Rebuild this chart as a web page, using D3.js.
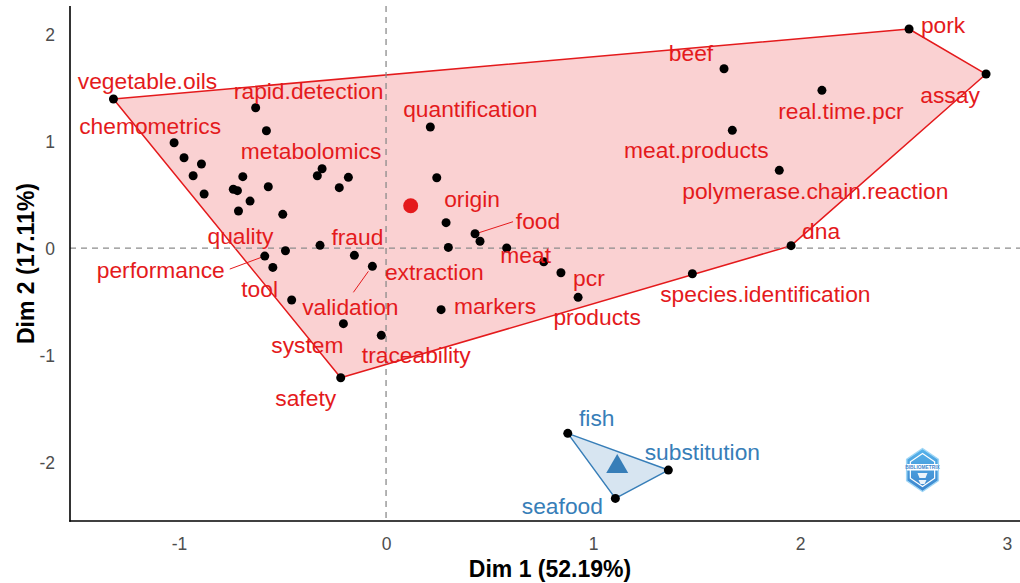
<!DOCTYPE html>
<html>
<head>
<meta charset="utf-8">
<script src="https://cdn.jsdelivr.net/npm/d3@7"></script>
<style>
  html, body { margin: 0; padding: 0; background: #fff; }
  svg { display: block; font-family: "Liberation Sans", Arial, sans-serif; }
</style>
</head>
<body>
<svg id="chart" width="1020" height="583"></svg>
<script>
// Conceptual structure map: terms placed on the first two dimensions, grouped in two clusters.
const terms = [
  "vegetable.oils", "rapid.detection", null, "chemometrics", null, null, null, null, null, null,
  null, null, null, null, null, "metabolomics", null, null, null, null,
  "quality", "performance", null, "tool", "fraud", "validation", "system", "traceability", "safety",
  "quantification", null, "origin", "food", null, "extraction", "meat", null, "pcr", "products", "markers",
  "beef", "pork", "assay", "real.time.pcr", "meat.products", "polymerase.chain.reaction", "dna",
  "species.identification",
  "fish", "substitution", "seafood"
];
const dim1 = [
  -1.317, -0.630, -0.578, -1.024, -0.976, -0.892, -0.932, -0.879, -0.692, -0.738,
  -0.718, -0.569, -0.657, -0.713, -0.499, -0.309, -0.332, -0.182, -0.226, -0.319,
  -0.486, -0.586, -0.547, -0.456, -0.153, -0.066, -0.206, -0.023, -0.219,
  0.214, 0.245, 0.290, 0.430, 0.454, 0.301, 0.583, 0.762, 0.845, 0.928, 0.266,
  1.633, 2.527, 2.899, 2.106, 1.673, 1.900, 1.957,
  1.480,
  0.878, 1.364, 1.108
];
const dim2 = [
  1.393, 1.311, 1.096, 0.984, 0.844, 0.785, 0.676, 0.505, 0.667, 0.549,
  0.536, 0.573, 0.439, 0.346, 0.315, 0.741, 0.676, 0.661, 0.564, 0.025,
  -0.025, -0.075, -0.181, -0.486, -0.068, -0.171, -0.707, -0.816, -1.212,
  1.131, 0.657, 0.237, 0.134, 0.063, 0.006, 0.000, -0.128, -0.231, -0.461, -0.576,
  1.676, 2.047, 1.626, 1.474, 1.100, 0.726, 0.022,
  -0.240,
  -1.732, -2.075, -2.340
];
const cluster = [
  1, 1, 1, 1, 1, 1, 1, 1, 1, 1,
  1, 1, 1, 1, 1, 1, 1, 1, 1, 1,
  1, 1, 1, 1, 1, 1, 1, 1, 1,
  1, 1, 1, 1, 1, 1, 1, 1, 1, 1, 1,
  1, 1, 1, 1, 1, 1, 1,
  1,
  2, 2, 2
];
const centroidDim1 = [0.119, 1.117];
const centroidDim2 = [0.395, -2.034];
const xTicks = [-1, 0, 1, 2, 3];
const yTicks = [-2, -1, 0, 1, 2];
const xTitle = "Dim 1 (52.19%)";
const yTitle = "Dim 2 (17.11%)";

// Layout: label nudges [dx, dy to baseline] in px, and optional leader-line end.
const labelNudge = {
  "vegetable.oils": [34, -10], "rapid.detection": [53, -9], "chemometrics": [-24, -9],
  "metabolomics": [-11, -10], "fraud": [3, -10], "quality": [-45, -7],
  "performance": [-104, 22, -35, 13], "tool": [-32, -3], "validation": [-22, 49, -19, 26],
  "system": [-36, 29], "traceability": [35, 28], "safety": [-35, 28],
  "quantification": [40, -10], "origin": [26, -16], "food": [63, -5, 38, -12],
  "extraction": [-14, 33], "meat": [19, 15], "pcr": [28, 13], "products": [19, 28],
  "markers": [54, 4], "beef": [-33, -8], "pork": [34, 4], "assay": [-36, 29],
  "real.time.pcr": [19, 29], "meat.products": [-36, 28], "polymerase.chain.reaction": [36, 29],
  "dna": [30, -7], "species.identification": [73, 28],
  "fish": [29, -7], "substitution": [34, -10], "seafood": [-53, 16]
};
const leaderStart = { "validation": [-4, 5], "food": [4, -1] };

const palette = { 1: "#E41A1C", 2: "#377EB8" };

const plot = { left: 70, right: 1020, top: 6, bottom: 521 };

const x = d3.scaleLinear().domain([-1.527, 3.063]).range([plot.left, plot.right]);
const y = d3.scaleLinear().domain([-2.551, 2.262]).range([plot.bottom, plot.top]);

const svg = d3.select("#chart");

const pts = terms.map((t, i) => ({ term: t, d1: dim1[i], d2: dim2[i], cl: cluster[i],
  px: x(dim1[i]), py: y(dim2[i]) }));

// Cluster hulls
const gHull = svg.append("g");
[1, 2].forEach(c => {
  const hull = d3.polygonHull(pts.filter(p => p.cl === c).map(p => [p.px, p.py]));
  gHull.append("path")
    .attr("d", "M" + hull.join("L") + "Z")
    .attr("fill", palette[c]).attr("fill-opacity", 0.2)
    .attr("stroke", palette[c]).attr("stroke-width", 1.5)
    .attr("stroke-linejoin", "round");
});

// Reference lines at the origin
svg.append("line")
  .attr("x1", x(0)).attr("x2", x(0)).attr("y1", plot.top).attr("y2", plot.bottom)
  .attr("stroke", "#8c8c8c").attr("stroke-width", 1.3).attr("stroke-dasharray", "6,5");
svg.append("line")
  .attr("x1", plot.left).attr("x2", plot.right).attr("y1", y(0)).attr("y2", y(0))
  .attr("stroke", "#8c8c8c").attr("stroke-width", 1.3).attr("stroke-dasharray", "6,5");

// Leader lines
const labelled = pts.filter(p => p.term && labelNudge[p.term]);
svg.append("g").selectAll("line")
  .data(labelled.filter(p => labelNudge[p.term].length > 2))
  .join("line")
  .attr("x1", p => p.px + (leaderStart[p.term] ? leaderStart[p.term][0] : 0))
  .attr("y1", p => p.py + (leaderStart[p.term] ? leaderStart[p.term][1] : 0))
  .attr("x2", p => p.px + labelNudge[p.term][2])
  .attr("y2", p => p.py + labelNudge[p.term][3])
  .attr("stroke", p => palette[p.cl]).attr("stroke-width", 1);

// Term points
svg.append("g").selectAll("circle")
  .data(pts).join("circle")
  .attr("cx", p => p.px).attr("cy", p => p.py).attr("r", 4.5)
  .attr("fill", "#000");

// Cluster centres
svg.append("circle")
  .attr("cx", x(centroidDim1[0])).attr("cy", y(centroidDim2[0])).attr("r", 7.5)
  .attr("fill", palette[1]);
svg.append("path")
  .attr("d", d3.symbol().type(d3.symbolTriangle).size(210)())
  .attr("transform", `translate(${x(centroidDim1[1])},${y(centroidDim2[1]) + 1})`)
  .attr("fill", palette[2]);

// Term labels
svg.append("g").selectAll("text")
  .data(labelled).join("text")
  .attr("x", p => p.px + labelNudge[p.term][0])
  .attr("y", p => p.py + labelNudge[p.term][1])
  .attr("text-anchor", "middle")
  .attr("font-size", "22.8px")
  .attr("fill", p => palette[p.cl])
  .text(p => p.term);

// Axes
const plainNum = d => String(d);
const axX = svg.append("g").attr("transform", `translate(0,${plot.bottom})`)
  .call(d3.axisBottom(x).tickValues(xTicks).tickSize(0).tickFormat(plainNum));
axX.select(".domain").remove();
axX.selectAll("text").attr("y", 29).attr("dy", 0)
  .attr("font-size", "17.5px").attr("fill", "#4d4d4d")
  .attr("font-family", "Liberation Sans, Arial, sans-serif");

const axY = svg.append("g").attr("transform", `translate(${plot.left},0)`)
  .call(d3.axisLeft(y).tickValues(yTicks).tickSize(0).tickFormat(plainNum));
axY.select(".domain").remove();
axY.selectAll("text").attr("x", -15).attr("dy", "0.35em")
  .attr("font-size", "17.5px").attr("fill", "#4d4d4d")
  .attr("font-family", "Liberation Sans, Arial, sans-serif");

svg.append("line")
  .attr("x1", plot.left).attr("x2", plot.left).attr("y1", plot.top).attr("y2", plot.bottom + 0.75)
  .attr("stroke", "#000").attr("stroke-width", 1.6);
svg.append("line")
  .attr("x1", plot.left - 0.75).attr("x2", plot.right).attr("y1", plot.bottom).attr("y2", plot.bottom)
  .attr("stroke", "#000").attr("stroke-width", 1.6);

svg.append("text")
  .attr("x", 550).attr("y", 577)
  .attr("text-anchor", "middle").attr("font-weight", "bold").attr("font-size", "23px")
  .attr("fill", "#000").text(xTitle);
svg.append("text")
  .attr("transform", `translate(33.5,${(plot.top + plot.bottom) / 2}) rotate(-90)`)
  .attr("text-anchor", "middle").attr("font-weight", "bold").attr("font-size", "23px")
  .attr("fill", "#000").text(yTitle);

// Watermark badge
const defs = svg.append("defs");
const grad = defs.append("linearGradient").attr("id", "badgeGrad")
  .attr("x1", 0).attr("y1", 0).attr("x2", 0).attr("y2", 1);
grad.append("stop").attr("offset", "0%").attr("stop-color", "#3aa7e8");
grad.append("stop").attr("offset", "100%").attr("stop-color", "#1a6fc4");
const badge = svg.append("g").attr("transform", "translate(922.5,470)").attr("opacity", 0.85);
const hex = (r) => d3.range(6).map(k => {
  const a = Math.PI / 3 * k - Math.PI / 2;
  return [r * 0.85 * Math.cos(a), r * Math.sin(a)];
});
badge.append("path").attr("d", "M" + hex(21.5).join("L") + "Z").attr("fill", "url(#badgeGrad)")
  .attr("stroke", "#8fd0f5").attr("stroke-width", 1.5).attr("stroke-linejoin", "round");
badge.append("path").attr("d", "M" + hex(16.5).join("L") + "Z")
  .attr("fill", "none").attr("stroke", "#ffffff").attr("stroke-width", 1.2);
badge.append("rect").attr("x", -15.5).attr("y", -6).attr("width", 31).attr("height", 6.5)
  .attr("fill", "#ffffff");
badge.append("text").attr("x", 0).attr("y", -1.2).attr("text-anchor", "middle")
  .attr("font-size", "4.8px").attr("font-weight", "bold").attr("fill", "#1a6fc4")
  .text("BIBLIOMETRIX");
badge.append("path").attr("d", "M-5,3 L5,3 L3,8 L-3,8 Z M-4,10 L4,10 L2,14 L-2,14 Z")
  .attr("fill", "#ffffff").attr("opacity", 0.9);
</script>
</body>
</html>
